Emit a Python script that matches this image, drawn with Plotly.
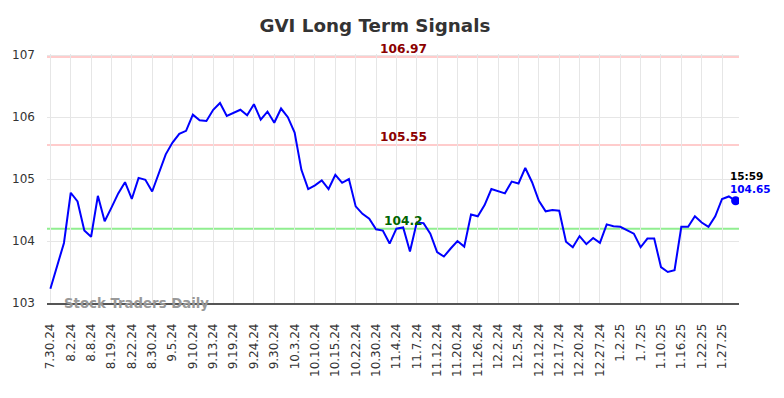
import plotly.graph_objects as go

tick_labels = ["7.30.24", "8.2.24", "8.8.24", "8.19.24", "8.22.24", "8.30.24", "9.5.24",
               "9.10.24", "9.13.24", "9.19.24", "9.24.24", "9.30.24", "10.3.24", "10.10.24",
               "10.15.24", "10.22.24", "10.30.24", "11.4.24", "11.7.24", "11.12.24", "11.20.24",
               "11.26.24", "12.2.24", "12.5.24", "12.12.24", "12.17.24", "12.20.24", "12.27.24",
               "1.2.25", "1.7.25", "1.10.25", "1.16.25", "1.22.25", "1.27.25"]

prices = [103.23, 103.62, 103.97, 104.78, 104.64, 104.17, 104.07, 104.73, 104.32, 104.54,
          104.77, 104.95, 104.68, 105.02, 104.99, 104.80, 105.10, 105.40, 105.59, 105.73,
          105.78, 106.04, 105.95, 105.94, 106.12, 106.23, 106.02, 106.07, 106.12, 106.03,
          106.21, 105.96, 106.09, 105.91, 106.14, 106.00, 105.75, 105.15, 104.84, 104.90,
          104.98, 104.84, 105.07, 104.94, 105.00, 104.56, 104.44, 104.36, 104.19, 104.17,
          103.96, 104.20, 104.22, 103.83, 104.30, 104.29, 104.12, 103.82, 103.75, 103.88,
          104.00, 103.91, 104.43, 104.40, 104.58, 104.84, 104.81, 104.77, 104.96, 104.93,
          105.18, 104.95, 104.65, 104.48, 104.50, 104.49, 103.99, 103.90, 104.08, 103.95,
          104.05, 103.97, 104.27, 104.24, 104.23, 104.17, 104.12, 103.90, 104.04, 104.04,
          103.58, 103.50, 103.53, 104.23, 104.23, 104.40, 104.30, 104.23, 104.40, 104.68,
          104.72, 104.65]

resistance_high = 106.97
resistance_low = 105.55
support = 104.2
last_time = "15:59"

x = list(range(len(prices)))
tickvals = [i * 3 for i in range(len(tick_labels))]

fig = go.Figure()
fig.add_trace(go.Scatter(x=x, y=prices, mode="lines",
                         line=dict(color="#0000ff", width=2), hoverinfo="skip"))
fig.add_trace(go.Scatter(x=[x[-1]], y=[prices[-1]], mode="markers",
                         marker=dict(color="#0000ff", size=9), hoverinfo="skip"))

for val, col in [(resistance_high, "#ffcccc"), (resistance_low, "#ffcccc"), (support, "#90ee90")]:
    fig.add_hline(y=val, line=dict(color=col, width=2), layer="below")

mid = 52
fig.add_annotation(x=mid, y=resistance_high, text="<b>%.2f</b>" % resistance_high, showarrow=False,
                   yanchor="bottom", yshift=-1, font=dict(color="#8b0000", size=12.2))
fig.add_annotation(x=mid, y=resistance_low, text="<b>%.2f</b>" % resistance_low, showarrow=False,
                   yanchor="bottom", yshift=-1, font=dict(color="#8b0000", size=12.2))
fig.add_annotation(x=mid, y=support, text="<b>%g</b>" % support, showarrow=False,
                   yanchor="bottom", yshift=-1, font=dict(color="#006400", size=12.2))
fig.add_annotation(x=x[-1], y=prices[-1], text="<b>%s</b>" % last_time, showarrow=False,
                   xanchor="left", yanchor="bottom", yshift=17, xshift=-8,
                   font=dict(color="black", size=10.5))
fig.add_annotation(x=x[-1], y=prices[-1], text="<b>%.2f</b>" % prices[-1], showarrow=False,
                   xanchor="left", yanchor="bottom", yshift=4, xshift=-8,
                   font=dict(color="#0000ff", size=10.5))
fig.add_annotation(xref="paper", yref="y", x=0.021, y=103, text="<b>Stock Traders Daily</b>",
                   showarrow=False, xanchor="left", yanchor="middle",
                   font=dict(color="#999999", size=13.3))

fig.update_layout(
    width=784, height=398,
    margin=dict(l=39, r=53, t=46, b=103),
    paper_bgcolor="white", plot_bgcolor="white",
    showlegend=False,
    font=dict(family="DejaVu Sans", color="#333333"),
    title=dict(text="<b>GVI Long Term Signals</b>", x=0.468, xanchor="center", y=0.957,
               yanchor="middle", font=dict(size=18.3, color="#333333")),
    xaxis=dict(range=[-0.5, 101.5], tickvals=tickvals, ticktext=tick_labels,
               tickangle=-90, tickfont=dict(size=12, color="#333333"), automargin=False,
               ticklabelstandoff=14,
               showgrid=True, gridcolor="#e6e6e6", gridwidth=1,
               showline=True, linecolor="#555555", linewidth=1.5, zeroline=False, ticks=""),
    yaxis=dict(range=[103, 107.02], tickvals=[103, 104, 105, 106, 107], automargin=False,
               ticklabelstandoff=11,
               tickfont=dict(size=12, color="#333333"),
               showgrid=True, gridcolor="#e6e6e6", gridwidth=1,
               showline=False, zeroline=False, ticks=""),
)

fig.write_html("out.html")
